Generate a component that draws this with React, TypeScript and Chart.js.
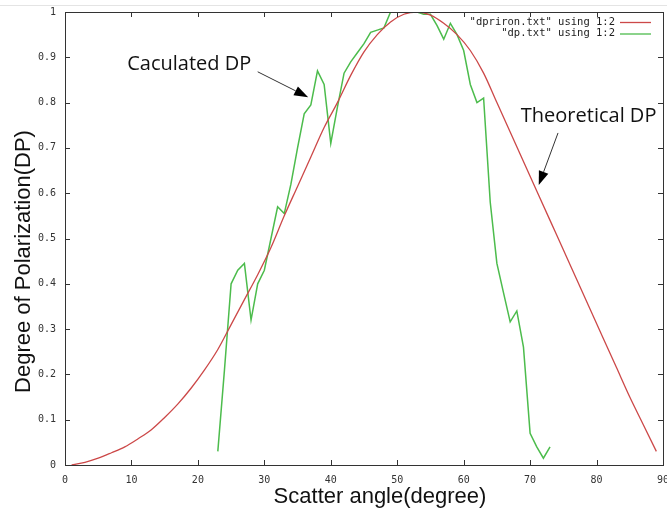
import React, { useEffect, useRef } from 'react';
import { Chart, registerables } from 'chart.js';

Chart.register(...registerables);

// Theoretical DP ("dpriron.txt")
const theoryAngles = [1, 3, 5, 7, 9, 11, 13, 15, 17, 19, 21, 23, 25, 27, 29, 31, 33, 35, 37, 39, 41, 43, 45, 47, 49, 51, 53, 55, 57, 59, 61, 63, 65, 67, 69, 71, 73, 75, 77, 79, 81, 83, 85, 87, 89];
const theoryDP = [0.0, 0.006, 0.015, 0.027, 0.04, 0.058, 0.078, 0.105, 0.135, 0.17, 0.21, 0.255, 0.31, 0.365, 0.42, 0.48, 0.55, 0.615, 0.68, 0.745, 0.8, 0.86, 0.912, 0.95, 0.978, 0.995, 1.0, 0.993, 0.975, 0.95, 0.915, 0.865, 0.8, 0.735, 0.67, 0.605, 0.54, 0.475, 0.41, 0.345, 0.28, 0.215, 0.15, 0.09, 0.03];

// Calculated DP ("dp.txt")
const calcAngles = [23, 24, 25, 26, 27, 28, 29, 30, 31, 32, 33, 34, 35, 36, 37, 38, 39, 40, 41, 42, 43, 44, 45, 46, 47, 48, 49, 50, 51, 52, 53, 54, 55, 56, 57, 58, 59, 60, 61, 62, 63, 64, 65, 66, 67, 68, 69, 70, 71, 72, 73];
const calcDP = [0.03, 0.21, 0.4, 0.43, 0.445, 0.32, 0.4, 0.43, 0.5, 0.57, 0.555, 0.62, 0.7, 0.775, 0.795, 0.87, 0.84, 0.71, 0.79, 0.865, 0.89, 0.91, 0.93, 0.955, 0.96, 0.965, 1.0, 1.01, 1.02, 1.01, 1.0, 0.995, 0.995, 0.97, 0.94, 0.975, 0.95, 0.915, 0.84, 0.8, 0.81, 0.58, 0.445, 0.38, 0.316, 0.34, 0.26, 0.07, 0.04, 0.015, 0.04];

const xTicks = [0, 10, 20, 30, 40, 50, 60, 70, 80, 90];
const yTicks = [0, 0.1, 0.2, 0.3, 0.4, 0.5, 0.6, 0.7, 0.8, 0.9, 1];

const seriesLabels = ['"dpriron.txt" using 1:2', '"dp.txt" using 1:2'];
const xTitle = 'Scatter angle(degree)';
const yTitle = 'Degree of Polarization(DP)';

const noteTexts = ['Caculated DP', 'Theoretical DP'];
// anchors in data units: [textX, textBaselineY, arrowFromX, arrowFromY, arrowToX, arrowToY]
const noteAnchors = [
  [9.37, 0.872, 29.0, 0.868, 36.6, 0.812],
  [68.6, 0.757, 74.2, 0.733, 71.3, 0.618],
];

const RED = '#cc4848';
const GREEN = '#4cbc4c';

function drawArrow(ctx: CanvasRenderingContext2D, x1: number, y1: number, x2: number, y2: number) {
  const ang = Math.atan2(y2 - y1, x2 - x1);
  const len = 14;
  const hw = 5;
  const bx = x2 - len * Math.cos(ang);
  const by = y2 - len * Math.sin(ang);
  ctx.save();
  ctx.strokeStyle = '#333';
  ctx.fillStyle = '#000';
  ctx.lineWidth = 1;
  ctx.beginPath();
  ctx.moveTo(x1, y1);
  ctx.lineTo(bx, by);
  ctx.stroke();
  ctx.beginPath();
  ctx.moveTo(x2, y2);
  ctx.lineTo(bx + hw * Math.sin(ang), by - hw * Math.cos(ang));
  ctx.lineTo(bx - hw * Math.sin(ang), by + hw * Math.cos(ang));
  ctx.closePath();
  ctx.fill();
  ctx.restore();
}

const decorPlugin = {
  id: 'gnuplotDecor',
  beforeDraw(chart: any) {
    const ctx = chart.ctx as CanvasRenderingContext2D;
    ctx.save();
    ctx.fillStyle = '#fff';
    ctx.fillRect(0, 0, chart.width, chart.height);
    ctx.fillStyle = '#e4e4e4';
    ctx.fillRect(0, 5, chart.width, 1);
    ctx.restore();
  },
  afterDraw(chart: any) {
    const ctx = chart.ctx as CanvasRenderingContext2D;
    const { left, right, top, bottom } = chart.chartArea;
    const xs = chart.scales.x;
    const ys = chart.scales.y;
    ctx.save();
    // border
    ctx.strokeStyle = '#333';
    ctx.lineWidth = 1;
    ctx.strokeRect(Math.round(left) + 0.5, Math.round(top) + 0.5, Math.round(right - left), Math.round(bottom - top));
    // inward ticks on all sides
    ctx.beginPath();
    xTicks.forEach((v) => {
      const px = Math.round(xs.getPixelForValue(v)) + 0.5;
      ctx.moveTo(px, bottom);
      ctx.lineTo(px, bottom - 5);
      ctx.moveTo(px, top);
      ctx.lineTo(px, top + 5);
    });
    yTicks.forEach((v) => {
      const py = Math.round(ys.getPixelForValue(v)) + 0.5;
      ctx.moveTo(left, py);
      ctx.lineTo(left + 5, py);
      ctx.moveTo(right, py);
      ctx.lineTo(right - 5, py);
    });
    ctx.stroke();

    // legend
    ctx.font = '10.5px "DejaVu Sans Mono"';
    ctx.textAlign = 'right';
    ctx.textBaseline = 'middle';
    const colors = [RED, GREEN];
    seriesLabels.forEach((lab, i) => {
      const y = top + 10 + i * 11.5;
      ctx.fillStyle = '#222';
      ctx.fillText(lab, right - 48, y);
      ctx.strokeStyle = colors[i];
      ctx.lineWidth = 1.3;
      ctx.beginPath();
      ctx.moveTo(right - 43, y + 0.5);
      ctx.lineTo(right - 12, y + 0.5);
      ctx.stroke();
    });

    // annotations
    ctx.font = '20px "Open Sans"';
    ctx.textAlign = 'left';
    ctx.textBaseline = 'alphabetic';
    ctx.fillStyle = '#111';
    noteTexts.forEach((t, i) => {
      const a = noteAnchors[i];
      ctx.fillText(t, xs.getPixelForValue(a[0]), ys.getPixelForValue(a[1]));
      drawArrow(ctx, xs.getPixelForValue(a[2]), ys.getPixelForValue(a[3]), xs.getPixelForValue(a[4]), ys.getPixelForValue(a[5]));
    });

    // axis titles
    ctx.font = '22px "Liberation Sans"';
    ctx.fillStyle = '#111';
    ctx.textAlign = 'center';
    ctx.textBaseline = 'alphabetic';
    ctx.fillText(xTitle, (left + right) / 2 + 16, 503);
    ctx.save();
    ctx.translate(30, (top + bottom) / 2 + 23);
    ctx.rotate(-Math.PI / 2);
    ctx.fillText(yTitle, 0, 0);
    ctx.restore();
    ctx.restore();
  },
};

export default function App() {
  const ref = useRef<HTMLCanvasElement | null>(null);
  useEffect(() => {
    if (!ref.current) return;
    const chart = new Chart(ref.current, {
      type: 'line',
      data: {
        datasets: [
          {
            label: seriesLabels[0],
            data: theoryAngles.map((x, i) => ({ x, y: theoryDP[i] })),
            borderColor: RED,
            borderWidth: 1.3,
            pointRadius: 0,
            cubicInterpolationMode: 'monotone',
            fill: false,
          },
          {
            label: seriesLabels[1],
            data: calcAngles.map((x, i) => ({ x, y: calcDP[i] })),
            borderColor: GREEN,
            borderWidth: 1.5,
            pointRadius: 0,
            tension: 0,
            fill: false,
          },
        ],
      },
      options: {
        responsive: false,
        animation: false,
        events: [],
        layout: { padding: { top: 12, right: 4, left: 0, bottom: 0 } },
        plugins: { legend: { display: false }, tooltip: { enabled: false }, title: { display: false } },
        scales: {
          x: {
            type: 'linear',
            min: 0,
            max: 90,
            border: { display: false },
            grid: { display: false, drawTicks: false },
            afterBuildTicks: (s: any) => { s.ticks = xTicks.map((v) => ({ value: v })); },
            afterFit: (s: any) => { s.height = 47; s.paddingLeft = 0; s.paddingRight = 0; },
            ticks: {
              padding: 9,
              color: '#333',
              font: { family: '"DejaVu Sans Mono"', size: 10 },
              maxRotation: 0,
              callback: (v: any) => String(v),
            },
          },
          y: {
            type: 'linear',
            min: 0,
            max: 1,
            border: { display: false },
            grid: { display: false, drawTicks: false },
            afterBuildTicks: (s: any) => { s.ticks = yTicks.map((v) => ({ value: v })); },
            afterFit: (s: any) => { s.width = 65; s.paddingTop = 0; s.paddingBottom = 0; },
            ticks: {
              padding: 9,
              color: '#333',
              font: { family: '"DejaVu Sans Mono"', size: 10 },
              callback: (v: any) => (v === 0 || v === 1 ? String(v) : Number(v).toFixed(1)),
            },
          },
        },
      },
      plugins: [decorPlugin],
    } as any);
    return () => chart.destroy();
  }, []);
  return (
    <div style={{ position: 'fixed', left: 0, top: 0, width: 667, height: 512, background: '#fff' }}>
      <canvas ref={ref} width={667} height={512} style={{ display: 'block', width: 667, height: 512 }} />
    </div>
  );
}
